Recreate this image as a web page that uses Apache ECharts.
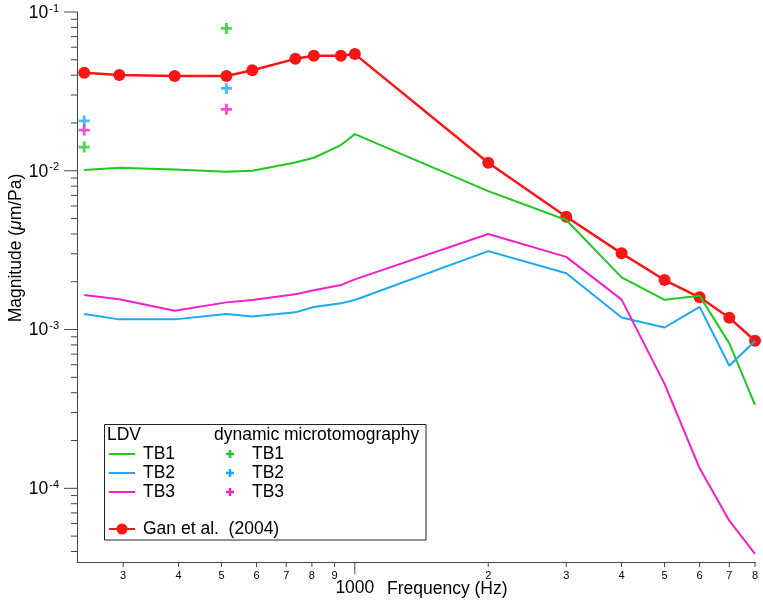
<!DOCTYPE html>
<html>
<head>
<meta charset="utf-8">
<title>Magnitude vs frequency</title>
<script src="https://cdn.jsdelivr.net/npm/echarts@6/dist/echarts.min.js"></script>
<style>
  html, body { margin: 0; padding: 0; background: #fff; }
  #chart { width: 763px; height: 600px; }
</style>
</head>
<body>
<div id="chart"></div>
<script>
// frequencies (Hz) shared by the LDV curves and Gan et al.
const freqs = [245, 294, 392, 513, 587, 734, 808, 930, 1000, 2000, 3000, 4000, 5000, 6000, 7000, 8000]
const gan2004 = [0.0414, 0.0401, 0.0395, 0.0395, 0.0430, 0.0507, 0.0530, 0.0530, 0.0543, 0.01123, 0.00513, 0.00302, 0.00205, 0.001596, 0.001187, 0.00085]
const ldvTB1 = [0.0101, 0.01045, 0.01017, 0.00986, 0.0100, 0.01129, 0.01208, 0.01452, 0.01702, 0.00745, 0.0049, 0.00213, 0.00154, 0.00163, 0.000818, 0.000335]
const ldvTB2 = [0.001252, 0.001159, 0.001159, 0.001252, 0.00121, 0.001283, 0.001386, 0.001462, 0.001535, 0.00312, 0.00226, 0.00119, 0.00103, 0.00139, 0.000591, 0.000847]
const ldvTB3 = [0.001648, 0.001553, 0.001312, 0.001483, 0.001535, 0.001667, 0.00177, 0.001905, 0.00207, 0.003994, 0.00287, 0.001543, 0.000455, 0.0001336, 0.0000625, 0.0000386]

// dynamic microtomography points
const microFreqs = [245, 513]
const microTB1 = [0.0141, 0.0788]
const microTB2 = [0.0206, 0.0330]
const microTB3 = [0.01805, 0.0244]

// axis ticks
const xTicks = [300, 400, 500, 600, 700, 800, 900, 1000, 2000, 3000, 4000, 5000, 6000, 7000, 8000]
const xTickLabels = ['3', '4', '5', '6', '7', '8', '9', '1000', '2', '3', '4', '5', '6', '7', '8']
const yMajorTicks = [1e-4, 1e-3, 1e-2, 1e-1]
const yMajorExps = ['-4', '-3', '-2', '-1']
const yMinorTicks = [4e-5, 5e-5, 6e-5, 7e-5, 8e-5, 9e-5,
  2e-4, 3e-4, 4e-4, 5e-4, 6e-4, 7e-4, 8e-4, 9e-4,
  2e-3, 3e-3, 4e-3, 5e-3, 6e-3, 7e-3, 8e-3, 9e-3,
  2e-2, 3e-2, 4e-2, 5e-2, 6e-2, 7e-2, 8e-2, 9e-2]

const xMin = 236
const xMax = 8000
const yMin = 3.435e-5
const yMax = 0.1

const font = '"Liberation Sans", Arial, Helvetica, sans-serif'
const axisColor = '#444'
const red = '#fa1616'
const green = '#1fc91f'
const blue = '#19a9f5'
const magenta = '#f71fc9'
// plus sign with thick arms
const plusPath = 'path://M4.5,0H7.5V4.5H12V7.5H7.5V12H4.5V7.5H0V4.5H4.5Z'

function pairs (xs, ys) {
  return xs.map((x, i) => [x, ys[i]])
}

function renderXTick (params, api) {
  const p = api.coord([api.value(0), yMin])
  const major = xTicks[params.dataIndex] === 1000
  return {
    type: 'group',
    children: [
      { type: 'line', shape: { x1: p[0], y1: p[1], x2: p[0], y2: p[1] + (major ? 12 : 5) }, style: { stroke: axisColor, lineWidth: 1 } },
      { type: 'text', x: p[0], y: p[1] + (major ? 26 : 14), style: { text: xTickLabels[params.dataIndex], fontSize: major ? 17.5 : 11, fontFamily: font, fill: '#000', align: 'center', verticalAlign: 'middle' } }
    ]
  }
}

function renderYMajor (params, api) {
  const p = api.coord([xMin, api.value(1)])
  return {
    type: 'group',
    children: [
      { type: 'line', shape: { x1: p[0] - 13, y1: p[1], x2: p[0], y2: p[1] }, style: { stroke: axisColor, lineWidth: 1 } },
      {
        type: 'text',
        x: p[0] - 18,
        y: p[1] + 1,
        style: {
          text: '{b|10}{s|' + yMajorExps[params.dataIndex] + '}',
          rich: {
            b: { fontSize: 17.5, fontFamily: font, fill: '#000', lineHeight: 20 },
            s: { fontSize: 11, fontFamily: font, fill: '#000', verticalAlign: 'top', padding: [0, 0, 0, 1] }
          },
          align: 'right',
          verticalAlign: 'middle'
        }
      }
    ]
  }
}

function renderYMinor (params, api) {
  const p = api.coord([xMin, api.value(1)])
  return { type: 'line', shape: { x1: p[0] - 6, y1: p[1], x2: p[0], y2: p[1] }, style: { stroke: axisColor, lineWidth: 1 } }
}

const legendX = 104.5
const legendY = 424.5
const legendText = { fontSize: 17.5, fontFamily: font, fill: '#000', verticalAlign: 'middle' }

function legendLine (y, color) {
  return { type: 'line', shape: { x1: 109, y1: y, x2: 135, y2: y }, style: { stroke: color, lineWidth: 2 } }
}
function legendPlus (y, color) {
  return {
    type: 'group',
    children: [
      { type: 'line', shape: { x1: 226, y1: y, x2: 234, y2: y }, style: { stroke: color, lineWidth: 2.5 } },
      { type: 'line', shape: { x1: 230, y1: y - 4, x2: 230, y2: y + 4 }, style: { stroke: color, lineWidth: 2.5 } }
    ]
  }
}
function legendLabel (x, y, text) {
  return { type: 'text', x: x, y: y, style: Object.assign({ text: text }, legendText) }
}

const option = {
  animation: false,
  backgroundColor: '#fff',
  grid: { left: 77, right: 8, top: 12, bottom: 38 },
  xAxis: {
    type: 'log',
    min: xMin,
    max: xMax,
    axisLine: { show: true, lineStyle: { color: axisColor, width: 1 } },
    axisTick: { show: false },
    axisLabel: { show: false },
    splitLine: { show: false }
  },
  yAxis: {
    type: 'log',
    min: yMin,
    max: yMax,
    axisLine: { show: true, lineStyle: { color: axisColor, width: 1 } },
    axisTick: { show: false },
    axisLabel: { show: false },
    splitLine: { show: false }
  },
  graphic: [
    {
      type: 'text',
      x: 16,
      y: 248,
      rotation: Math.PI / 2,
      style: {
        text: '{n|Magnitude (}{i|μ}{n|m/Pa)}',
        rich: {
          n: { fontSize: 17.5, fontFamily: font, fill: '#000' },
          i: { fontSize: 17.5, fontFamily: font, fontStyle: 'italic', fill: '#000' }
        },
        align: 'center',
        verticalAlign: 'middle'
      }
    },
    {
      type: 'text',
      x: 387,
      y: 589,
      style: { text: 'Frequency (Hz)', fontSize: 17.5, fontFamily: font, fill: '#000', verticalAlign: 'middle' }
    },
    {
      type: 'group',
      z: 100,
      children: [
        { type: 'rect', shape: { x: legendX, y: legendY, width: 321.5, height: 115.5 }, style: { fill: '#fff', stroke: '#222', lineWidth: 1 } },
        legendLabel(107, 435, 'LDV'),
        legendLabel(214, 435, 'dynamic microtomography'),
        legendLine(454, green),
        legendLine(473, blue),
        legendLine(492, magenta),
        legendLabel(143, 454, 'TB1'),
        legendLabel(143, 473, 'TB2'),
        legendLabel(143, 492, 'TB3'),
        legendPlus(454, green),
        legendPlus(473, blue),
        legendPlus(492, magenta),
        legendLabel(252, 454, 'TB1'),
        legendLabel(252, 473, 'TB2'),
        legendLabel(252, 492, 'TB3'),
        legendLine(529, red),
        { type: 'circle', shape: { cx: 122, cy: 529, r: 5.5 }, style: { fill: red } },
        legendLabel(143, 529, 'Gan et al.  (2004)')
      ]
    }
  ],
  series: [
    {
      name: 'Gan et al. (2004)',
      type: 'line',
      data: pairs(freqs, gan2004),
      symbol: 'circle',
      symbolSize: 12,
      lineStyle: { color: red, width: 2.5 },
      itemStyle: { color: red },
      z: 2
    },
    { name: 'LDV TB1', type: 'line', data: pairs(freqs, ldvTB1), symbol: 'none', lineStyle: { color: green, width: 2 }, z: 3 },
    { name: 'LDV TB2', type: 'line', data: pairs(freqs, ldvTB2), symbol: 'none', lineStyle: { color: blue, width: 2 }, z: 3 },
    { name: 'LDV TB3', type: 'line', data: pairs(freqs, ldvTB3), symbol: 'none', lineStyle: { color: magenta, width: 2 }, z: 3 },
    { name: 'micro TB1', type: 'scatter', data: pairs(microFreqs, microTB1), symbol: plusPath, symbolSize: 11, itemStyle: { color: green }, z: 4 },
    { name: 'micro TB2', type: 'scatter', data: pairs(microFreqs, microTB2), symbol: plusPath, symbolSize: 11, itemStyle: { color: blue }, z: 4 },
    { name: 'micro TB3', type: 'scatter', data: pairs(microFreqs, microTB3), symbol: plusPath, symbolSize: 11, itemStyle: { color: magenta }, z: 4 },
    { name: 'x ticks', type: 'custom', silent: true, renderItem: renderXTick, data: xTicks.map(v => [v, yMin]) },
    { name: 'y major', type: 'custom', silent: true, renderItem: renderYMajor, data: yMajorTicks.map(v => [xMin, v]) },
    { name: 'y minor', type: 'custom', silent: true, renderItem: renderYMinor, data: yMinorTicks.map(v => [xMin, v]) }
  ]
}

const chart = echarts.init(document.getElementById('chart'))
chart.setOption(option)
window.addEventListener('resize', () => chart.resize())
</script>
</body>
</html>
